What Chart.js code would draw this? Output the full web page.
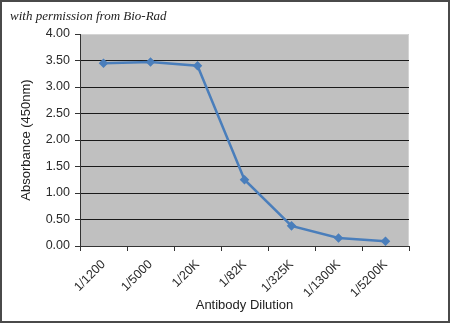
<!DOCTYPE html>
<html>
<head>
<meta charset="utf-8">
<script src="https://cdn.jsdelivr.net/npm/chart.js@4"></script>
<style>
  html, body { margin: 0; padding: 0; background: #fff; }
  #wrap { width: 450px; height: 323px; }
</style>
</head>
<body>
<div id="wrap"><canvas id="chart" width="450" height="323"></canvas></div>
<script>
const dilutions = ['1/1200', '1/5000', '1/20K', '1/82K', '1/325K', '1/1300K', '1/5200K'];
const absorbance = [3.45, 3.47, 3.40, 1.25, 0.38, 0.15, 0.09];
const creditText = 'with permission from Bio-Rad';

const plotBackground = {
    id: 'plotBackground',
    beforeDraw(chart) {
        const { ctx, chartArea: a } = chart;
        ctx.save();
        ctx.fillStyle = '#c0c0c0';
        ctx.fillRect(a.left, a.top, a.right - a.left, a.bottom - a.top);
        ctx.strokeStyle = '#d4d4d4';
        ctx.lineWidth = 1;
        ctx.beginPath();
        ctx.moveTo(a.left, a.top + 0.5);
        ctx.lineTo(a.right - 0.5, a.top + 0.5);
        ctx.lineTo(a.right - 0.5, a.bottom);
        ctx.stroke();
        ctx.restore();
    },
    afterDraw(chart) {
        const ctx = chart.ctx;
        ctx.save();
        ctx.strokeStyle = '#4a4a4a';
        ctx.lineWidth = 2;
        ctx.strokeRect(1, 1, chart.width - 2, chart.height - 2);
        ctx.fillStyle = '#222';
        ctx.font = 'italic 13px "Liberation Serif"';
        ctx.textBaseline = 'alphabetic';
        ctx.fillText(creditText, 10, 20);
        ctx.restore();
    }
};

new Chart(document.getElementById('chart'), {
    type: 'line',
    data: {
        labels: dilutions,
        datasets: [{
            label: 'Absorbance',
            data: absorbance,
            borderColor: '#4a7ebb',
            backgroundColor: '#4a7ebb',
            borderWidth: 2.5,
            pointStyle: 'rectRot',
            pointRadius: 3,
            tension: 0
        }]
    },
    options: {
        responsive: false,
        animation: false,
        layout: { padding: { top: 34, right: 41, left: 0, bottom: 0 } },
        plugins: {
            legend: { display: false },
            tooltip: { enabled: false }
        },
        scales: {
            y: {
                min: 0,
                max: 4,
                afterFit(scale) { scale.width = 80; },
                ticks: {
                    stepSize: 0.5,
                    padding: 5,
                    color: '#2a2a2a',
                    font: { family: '"Liberation Sans", Arial', size: 12.5 },
                    callback: v => v.toFixed(2)
                },
                grid: {
                    color: ctx => ctx.tick && ctx.tick.value === 4 ? 'rgba(0,0,0,0)' : '#1a1a1a',
                    tickColor: '#333',
                    tickLength: 5,
                    lineWidth: 1
                },
                border: { color: '#333', width: 1 },
                title: {
                    display: true,
                    text: 'Absorbance (450nm)',
                    color: '#222',
                    padding: { top: 19, bottom: 0 },
                    font: { family: '"Liberation Sans", Arial', size: 13 }
                }
            },
            x: {
                offset: true,
                afterFit(scale) { scale.height = 77; },
                ticks: {
                    minRotation: 45,
                    maxRotation: 45,
                    padding: 6,
                    color: '#2a2a2a',
                    font: { family: '"Liberation Sans", Arial', size: 12.5 }
                },
                grid: {
                    offset: true,
                    drawOnChartArea: false,
                    tickColor: '#333',
                    tickLength: 5
                },
                border: { color: '#333', width: 1 },
                title: {
                    display: true,
                    text: 'Antibody Dilution',
                    color: '#222',
                    padding: { top: 0, bottom: 10 },
                    font: { family: '"Liberation Sans", Arial', size: 13 }
                }
            }
        }
    },
    plugins: [plotBackground]
});
</script>
</body>
</html>
